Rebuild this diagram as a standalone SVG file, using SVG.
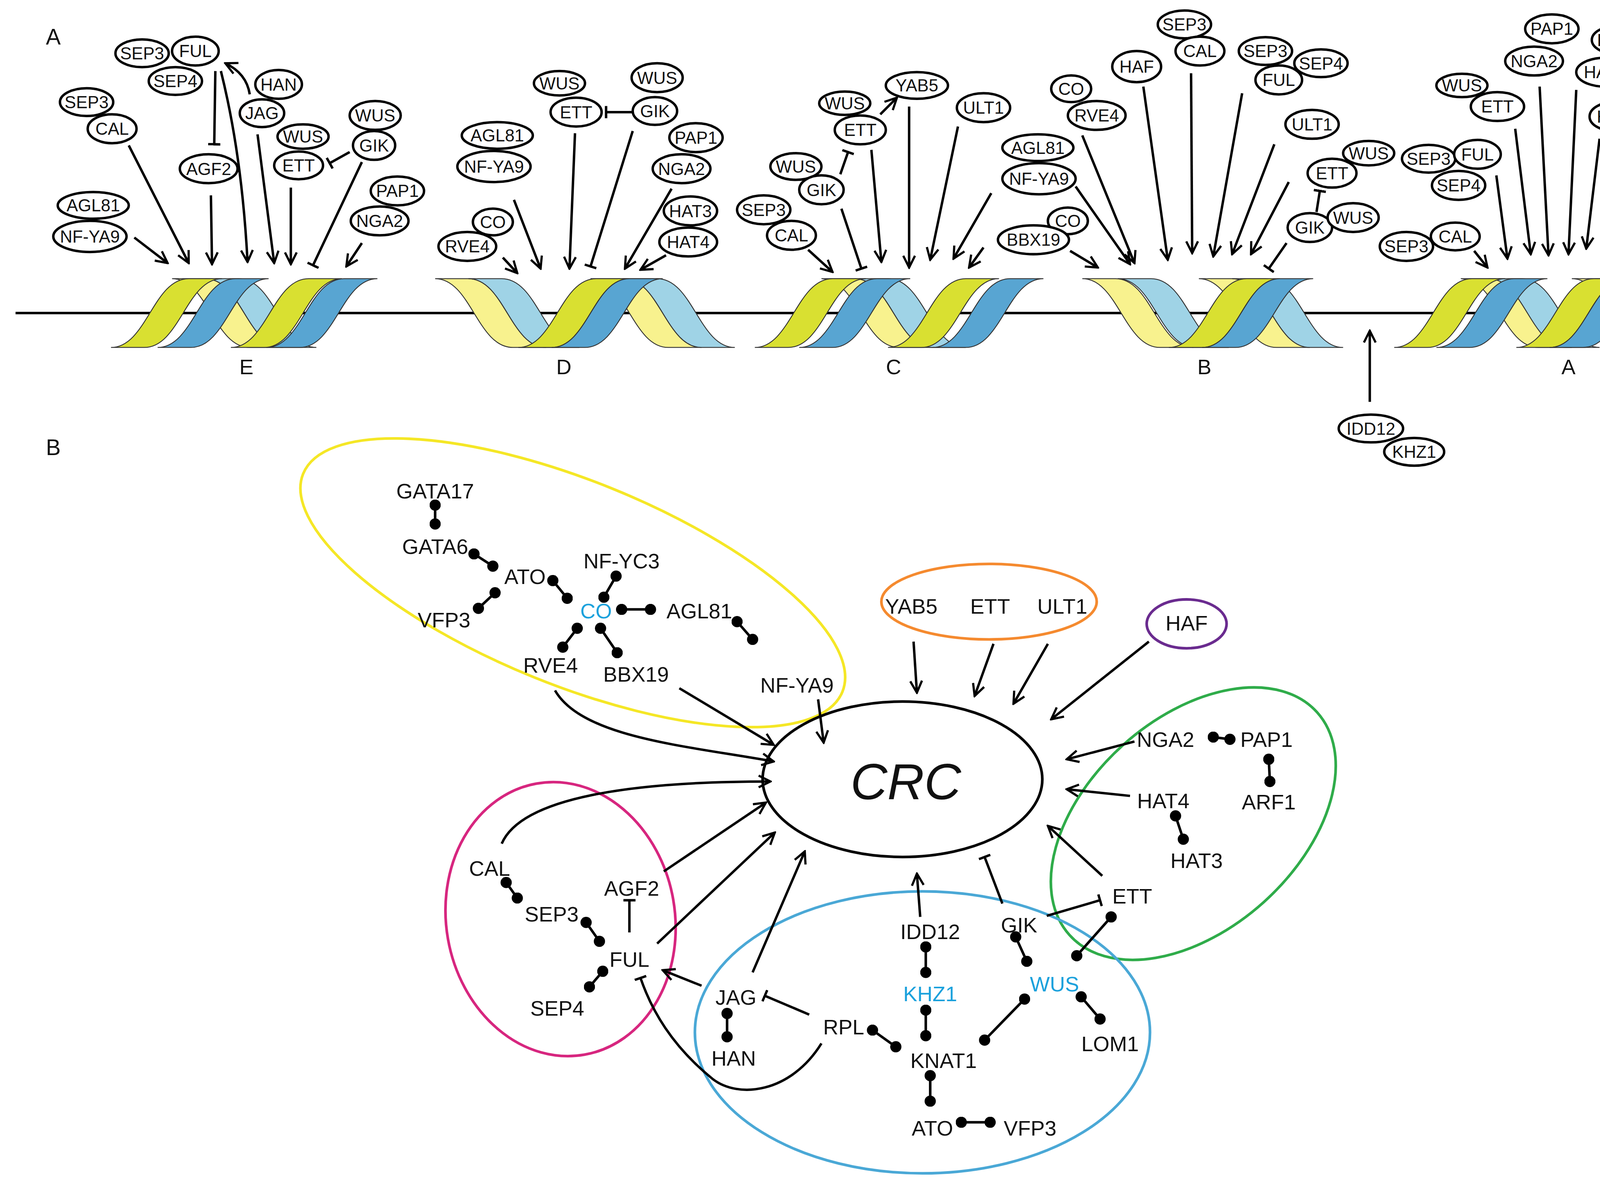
<svg xmlns="http://www.w3.org/2000/svg" xmlns:xlink="http://www.w3.org/1999/xlink" width="4433" height="3031" viewBox="0 0 4433 3031">
<style>
.n ellipse{fill:#fff;stroke:#000;stroke-width:2.2}
.n text,.t{font-family:"Liberation Sans",Arial,sans-serif;font-size:15.5px;text-anchor:middle;fill:#111}
.b{font-family:"Liberation Sans",Arial,sans-serif;font-size:19px;text-anchor:middle;fill:#111}
.c{fill:#1ba1dc}
.ln{fill:none;stroke:#000;stroke-width:2.2}
.ar{marker-end:url(#ar)}
.tb{marker-end:url(#tb)}
.dl{stroke:#000;stroke-width:2.3;marker-start:url(#dot);marker-end:url(#dot)}
.G{fill:#d9e031;stroke:#333;stroke-width:.8}
.B{fill:#58a5d2;stroke:#333;stroke-width:.8}
.LY{fill:#f8f28e;stroke:#333;stroke-width:.8}
.LB{fill:#9fd3e6;stroke:#333;stroke-width:.8}
</style>
<defs>
<marker id="ar" viewBox="0 0 10 10" refX="9" refY="5" markerWidth="6" markerHeight="6" orient="auto" markerUnits="strokeWidth"><path d="M1,1 L9,5 L1,9" fill="none" stroke="#000" stroke-width="1.5"/></marker>
<marker id="tb" viewBox="0 0 10 10" refX="9" refY="5" markerWidth="5" markerHeight="5" orient="auto" markerUnits="strokeWidth"><path d="M9,0 L9,10" stroke="#000" stroke-width="2"/></marker>
<marker id="dot" viewBox="0 0 10 10" refX="5" refY="5" markerWidth="4.4" markerHeight="4.4" markerUnits="strokeWidth"><circle cx="5" cy="5" r="5" fill="#000"/></marker>
<path id="ri" d="M0,62 C32,62 38,0 70,0 L100,0 C68,0 62,62 30,62 Z"/>
<path id="fa" d="M0,0 L30,0 C62,0 68,62 100,62 L70,62 C38,62 32,0 0,0 Z"/>
</defs>
<rect width="4433" height="3031" fill="#fff"/>
<g transform="scale(2.8417)">
<text class="t" x="48" y="40" style="font-size:20px">A</text>
<line x1="14" y1="282" x2="1555" y2="282" stroke="#000" stroke-width="2.2"/>
<g id="helixE" transform="translate(100,251)">
<use href="#fa" x="55" class="LY"/><use href="#fa" x="85" class="LB"/>
<use href="#ri" x="0" class="G"/><use href="#ri" x="42" class="B"/><use href="#ri" x="108" class="G"/><use href="#ri" x="140" class="B"/>
</g>
<g id="helixD" transform="translate(392,251)">
<use href="#fa" x="0" class="LY"/><use href="#fa" x="30" class="LB"/><use href="#fa" x="140" class="LY"/><use href="#fa" x="170" class="LB"/>
<use href="#ri" x="75" class="G"/><use href="#ri" x="105" class="B"/>
</g>
<g id="helixC" transform="translate(680,251)">
<use href="#fa" x="60" class="LY"/><use href="#fa" x="90" class="LB"/>
<use href="#ri" x="0" class="G"/><use href="#ri" x="40" class="B"/><use href="#ri" x="120" class="G"/><use href="#ri" x="160" class="B"/>
</g>
<g id="helixB" transform="translate(975,251)">
<use href="#fa" x="0" class="LY"/><use href="#fa" x="32" class="LB"/><use href="#fa" x="105" class="LY"/><use href="#fa" x="135" class="LB"/>
<use href="#ri" x="78" class="G"/><use href="#ri" x="108" class="B"/>
</g>
<g id="helixA" transform="translate(1256,251)">
<use href="#fa" x="60" class="LY"/><use href="#fa" x="85" class="LB"/><use href="#fa" x="160" class="LY"/><use href="#fa" x="181" class="LB"/>
<use href="#ri" x="0" class="G"/><use href="#ri" x="38" class="B"/><use href="#ri" x="110" class="G"/><use href="#ri" x="140" class="B"/>
</g>
<text class="t" x="222" y="337" style="font-size:19px">E</text>
<text class="t" x="508" y="337" style="font-size:19px">D</text>
<text class="t" x="805" y="337" style="font-size:19px">C</text>
<text class="t" x="1085" y="337" style="font-size:19px">B</text>
<text class="t" x="1413" y="337" style="font-size:19px">A</text>

<g id="connectorsA">
<path class="ln ar" d="M121,214 L151,237"/>
<path class="ln ar" d="M116,131 L170,237"/>
<path class="ln ar" d="M190,176 L191,238"/>
<path class="ln ar" d="M199,64 Q218,140 223,236"/>
<path class="ln ar" d="M232,121 L247,237"/>
<path class="ln ar" d="M262,169 L262,238"/>
<path class="ln tb" d="M326,146 L282,239"/>
<path class="ln ar" d="M326,219 L312,240"/>
<path class="ln tb" d="M194,64 L193,130"/>
<path class="ln ar" d="M225,85 Q222,66 203,57"/>
<path class="ln tb" d="M315,137 L297,147"/>
<path class="ln ar" d="M453,232 L466,246"/>
<path class="ln ar" d="M463,180 L487,242"/>
<path class="ln ar" d="M518,120 L513,242"/>
<path class="ln tb" d="M570,118 L532,240"/>
<path class="ln ar" d="M605,170 L563,242"/>
<path class="ln ar" d="M600,230 L577,243"/>
<path class="ln tb" d="M570,101 L546,101"/>
<path class="ln ar" d="M793,103 L808,88"/>
<path class="ln tb" d="M757,157 L764,137"/>
<path class="ln ar" d="M728,225 L750,245"/>
<path class="ln tb" d="M758,188 L776,242"/>
<path class="ln ar" d="M785,135 L794,236"/>
<path class="ln ar" d="M819,96 L819,241"/>
<path class="ln ar" d="M863,114 L838,234"/>
<path class="ln ar" d="M893,174 L859,233"/>
<path class="ln ar" d="M886,223 L873,241"/>
<path class="ln ar" d="M964,226 L989,241"/>
<path class="ln ar" d="M969,168 L1018,238"/>
<path class="ln ar" d="M975,122 L1022,237"/>
<path class="ln ar" d="M1030,78 L1052,234"/>
<path class="ln ar" d="M1073,66 L1074,228"/>
<path class="ln ar" d="M1119,84 L1093,231"/>
<path class="ln ar" d="M1148,130 L1110,229"/>
<path class="ln ar" d="M1161,164 L1127,229"/>
<path class="ln tb" d="M1159,219 L1143,242"/>
<path class="ln tb" d="M1186,191 L1189,172"/>
<path class="ln ar" d="M1328,226 L1340,241"/>
<path class="ln ar" d="M1348,158 L1358,233"/>
<path class="ln ar" d="M1365,116 L1379,229"/>
<path class="ln ar" d="M1387,78 L1395,230"/>
<path class="ln ar" d="M1420,81 L1413,229"/>
<path class="ln ar" d="M1441,125 L1429,224"/>
<path class="ln ar" d="M1475,149 L1447,224"/>
<path class="ln ar" d="M1468,222 L1456,236"/>
<path d="M1476,250 L1476,242 L1489,242" fill="none" stroke="#000" stroke-width="1.3"/>
<path d="M1486,239 L1490,242 L1486,245" fill="none" stroke="#000" stroke-width="1.3"/>
<path class="ln ar" d="M1234,362 L1234,298"/>
</g>

<g id="nodesA" class="n">
<g id="aE_sep4"><ellipse cx="158" cy="73" rx="24" ry="12.5"/><text x="158" y="78.5">SEP4</text></g>
<g id="aE_sep3"><ellipse cx="128" cy="48" rx="24" ry="12.5"/><text x="128" y="53.5">SEP3</text></g>
<g id="aE_ful"><ellipse cx="176" cy="46" rx="21" ry="13"/><text x="176" y="51.5">FUL</text></g>
<g id="aE_han"><ellipse cx="251" cy="76" rx="21" ry="13"/><text x="251" y="81.5">HAN</text></g>
<g id="aE_jag"><ellipse cx="236" cy="102" rx="20" ry="12.5"/><text x="236" y="107.5">JAG</text></g>
<g id="aE_sep3b"><ellipse cx="78" cy="92" rx="24" ry="12.5"/><text x="78" y="97.5">SEP3</text></g>
<g id="aE_cal"><ellipse cx="101" cy="116" rx="22" ry="13"/><text x="101" y="121.5">CAL</text></g>
<g id="aE_wus1"><ellipse cx="338" cy="104" rx="23" ry="13"/><text class="c" x="338" y="109.5">WUS</text></g>
<g id="aE_gik"><ellipse cx="337" cy="131" rx="19" ry="13"/><text x="337" y="136.5">GIK</text></g>
<g id="aE_wus2"><ellipse cx="273" cy="123" rx="23" ry="11"/><text class="c" x="273" y="128.5">WUS</text></g>
<g id="aE_ett"><ellipse cx="269" cy="149" rx="22" ry="12.5"/><text x="269" y="154.5">ETT</text></g>
<g id="aE_agf2"><ellipse cx="188" cy="152" rx="26" ry="13"/><text x="188" y="157.5">AGF2</text></g>
<g id="aE_agl81"><ellipse cx="84" cy="185" rx="32" ry="12"/><text x="84" y="190.5">AGL81</text></g>
<g id="aE_nfya9"><ellipse cx="81" cy="213" rx="33" ry="14"/><text x="81" y="218.5">NF-YA9</text></g>
<g id="aE_pap1"><ellipse cx="358" cy="172" rx="24" ry="13"/><text x="358" y="177.5">PAP1</text></g>
<g id="aE_nga2"><ellipse cx="342" cy="199" rx="26" ry="13"/><text x="342" y="204.5">NGA2</text></g>
<g id="aD_wus1"><ellipse cx="504" cy="75" rx="23" ry="11"/><text class="c" x="504" y="80.5">WUS</text></g>
<g id="aD_ett"><ellipse cx="519" cy="101" rx="23" ry="13"/><text x="519" y="106.5">ETT</text></g>
<g id="aD_wus2"><ellipse cx="592" cy="70" rx="23" ry="13"/><text class="c" x="592" y="75.5">WUS</text></g>
<g id="aD_gik"><ellipse cx="590" cy="100" rx="20" ry="12.5"/><text x="590" y="105.5">GIK</text></g>
<g id="aD_agl81"><ellipse cx="448" cy="122" rx="32" ry="12"/><text x="448" y="127.5">AGL81</text></g>
<g id="aD_nfya9"><ellipse cx="445" cy="150" rx="33" ry="14"/><text x="445" y="155.5">NF-YA9</text></g>
<g id="aD_pap1"><ellipse cx="627" cy="124" rx="24" ry="13"/><text x="627" y="129.5">PAP1</text></g>
<g id="aD_nga2"><ellipse cx="614" cy="152" rx="26" ry="13"/><text x="614" y="157.5">NGA2</text></g>
<g id="aD_co"><ellipse cx="444" cy="200" rx="18" ry="12"/><text class="c" x="444" y="205.5">CO</text></g>
<g id="aD_rve4"><ellipse cx="421" cy="222" rx="26" ry="13"/><text x="421" y="227.5">RVE4</text></g>
<g id="aD_hat3"><ellipse cx="622" cy="190" rx="24" ry="13"/><text x="622" y="195.5">HAT3</text></g>
<g id="aD_hat4"><ellipse cx="620" cy="218" rx="26" ry="13"/><text x="620" y="223.5">HAT4</text></g>
<g id="aC_wus1"><ellipse cx="761" cy="93" rx="23" ry="10.5"/><text class="c" x="761" y="98.5">WUS</text></g>
<g id="aC_ett"><ellipse cx="775" cy="117" rx="23" ry="13"/><text x="775" y="122.5">ETT</text></g>
<g id="aC_yab5"><ellipse cx="826" cy="77" rx="28" ry="12"/><text x="826" y="82.5">YAB5</text></g>
<g id="aC_ult1"><ellipse cx="886" cy="97" rx="24" ry="13"/><text x="886" y="102.5">ULT1</text></g>
<g id="aC_wus2"><ellipse cx="717" cy="150" rx="23" ry="12"/><text class="c" x="717" y="155.5">WUS</text></g>
<g id="aC_gik"><ellipse cx="740" cy="171" rx="20" ry="13"/><text x="740" y="176.5">GIK</text></g>
<g id="aC_sep3"><ellipse cx="688" cy="189" rx="24" ry="13"/><text x="688" y="194.5">SEP3</text></g>
<g id="aC_cal"><ellipse cx="713" cy="212" rx="22" ry="13"/><text x="713" y="217.5">CAL</text></g>
<g id="aC_agl81"><ellipse cx="935" cy="133" rx="32" ry="12"/><text x="935" y="138.5">AGL81</text></g>
<g id="aC_nfya9"><ellipse cx="936" cy="161" rx="33" ry="14"/><text x="936" y="166.5">NF-YA9</text></g>
<g id="aC_co"><ellipse cx="962" cy="199" rx="18" ry="12"/><text class="c" x="962" y="204.5">CO</text></g>
<g id="aC_bbx19"><ellipse cx="931" cy="216" rx="32" ry="13"/><text x="931" y="221.5">BBX19</text></g>
<g id="aB_sep3"><ellipse cx="1067" cy="22" rx="24" ry="12.5"/><text x="1067" y="27.5">SEP3</text></g>
<g id="aB_cal"><ellipse cx="1081" cy="46" rx="22" ry="13"/><text x="1081" y="51.5">CAL</text></g>
<g id="aB_haf"><ellipse cx="1024" cy="60" rx="22" ry="14"/><text x="1024" y="65.5">HAF</text></g>
<g id="aB_sep4"><ellipse cx="1190" cy="57" rx="24" ry="12.5"/><text x="1190" y="62.5">SEP4</text></g>
<g id="aB_sep3b"><ellipse cx="1140" cy="46" rx="24" ry="12.5"/><text x="1140" y="51.5">SEP3</text></g>
<g id="aB_ful"><ellipse cx="1152" cy="72" rx="21" ry="13"/><text x="1152" y="77.5">FUL</text></g>
<g id="aB_co"><ellipse cx="965" cy="80" rx="18" ry="12"/><text class="c" x="965" y="85.5">CO</text></g>
<g id="aB_rve4"><ellipse cx="988" cy="104" rx="26" ry="13"/><text x="988" y="109.5">RVE4</text></g>
<g id="aB_ult1"><ellipse cx="1182" cy="112" rx="24" ry="13"/><text x="1182" y="117.5">ULT1</text></g>
<g id="aB_wus1"><ellipse cx="1233" cy="138" rx="23" ry="11"/><text class="c" x="1233" y="143.5">WUS</text></g>
<g id="aB_ett"><ellipse cx="1200" cy="156" rx="22" ry="13"/><text x="1200" y="161.5">ETT</text></g>
<g id="aB_gik"><ellipse cx="1180" cy="205" rx="20" ry="13"/><text x="1180" y="210.5">GIK</text></g>
<g id="aB_wus2"><ellipse cx="1219" cy="196" rx="23" ry="13"/><text class="c" x="1219" y="201.5">WUS</text></g>
<g id="aA_wus"><ellipse cx="1317" cy="77" rx="23" ry="10.5"/><text class="c" x="1317" y="82.5">WUS</text></g>
<g id="aA_ett"><ellipse cx="1349" cy="96" rx="24" ry="13"/><text x="1349" y="101.5">ETT</text></g>
<g id="aA_sep4"><ellipse cx="1314" cy="167" rx="24" ry="13"/><text x="1314" y="172.5">SEP4</text></g>
<g id="aA_sep3"><ellipse cx="1287" cy="143" rx="24" ry="12.5"/><text x="1287" y="148.5">SEP3</text></g>
<g id="aA_ful"><ellipse cx="1331" cy="139" rx="21" ry="13"/><text x="1331" y="144.5">FUL</text></g>
<g id="aA_sep3b"><ellipse cx="1267" cy="222" rx="24" ry="13"/><text x="1267" y="227.5">SEP3</text></g>
<g id="aA_cal"><ellipse cx="1311" cy="213" rx="22" ry="12.5"/><text x="1311" y="218.5">CAL</text></g>
<g id="aA_pap1"><ellipse cx="1398" cy="26" rx="24" ry="13"/><text x="1398" y="31.5">PAP1</text></g>
<g id="aA_nga2"><ellipse cx="1382" cy="55" rx="26" ry="13"/><text x="1382" y="60.5">NGA2</text></g>
<g id="aA_hat3"><ellipse cx="1458" cy="36" rx="24" ry="13"/><text x="1458" y="41.5">HAT3</text></g>
<g id="aA_hat4"><ellipse cx="1446" cy="65" rx="26" ry="13"/><text x="1446" y="70.5">HAT4</text></g>
<g id="aA_haf"><ellipse cx="1454" cy="105" rx="22" ry="13"/><text x="1454" y="110.5">HAF</text></g>
<g id="aA_agl81"><ellipse cx="1512" cy="109" rx="32" ry="12"/><text x="1512" y="114.5">AGL81</text></g>
<g id="aA_nfya9"><ellipse cx="1511" cy="137" rx="33" ry="14"/><text x="1511" y="142.5">NF-YA9</text></g>
<g id="aA_co"><ellipse cx="1519" cy="185" rx="18" ry="12"/><text class="c" x="1519" y="190.5">CO</text></g>
<g id="aA_rve4"><ellipse cx="1492" cy="207" rx="26" ry="13"/><text x="1492" y="212.5">RVE4</text></g>
<g id="a_idd12"><ellipse cx="1235" cy="386" rx="29" ry="12.5"/><text x="1235" y="391.5">IDD12</text></g>
<g id="a_khz1"><ellipse cx="1274" cy="407" rx="27" ry="12.5"/><text class="c" x="1274" y="412.5">KHZ1</text></g>
</g>

<text class="t" x="48" y="410" style="font-size:20px">B</text>
<g id="groups" fill="none" stroke-width="2.4">
<ellipse cx="516" cy="525" rx="262" ry="92" transform="rotate(22 516 525)" stroke="#f5e726"/>
<ellipse cx="891" cy="542" rx="97" ry="34" stroke="#f58a2f"/>
<ellipse cx="1069" cy="562" rx="36" ry="22" stroke="#6a2b8f"/>
<ellipse cx="1075" cy="742" rx="150" ry="95" transform="rotate(-42 1075 742)" stroke="#2fac4a"/>
<ellipse cx="505" cy="828" rx="103" ry="124" transform="rotate(-10 505 828)" stroke="#d7267f"/>
<ellipse cx="831" cy="930" rx="205" ry="127" stroke="#4aa8d6"/>
</g>
<g id="crc"><ellipse cx="813" cy="702" rx="126" ry="70" fill="none" stroke="#000" stroke-width="2.4"/><text class="b" x="816" y="720" style="font-size:46px;font-style:italic">CRC</text></g>

<g id="connectorsB">
<line class="dl" x1="392" y1="455" x2="392" y2="472"/>
<line class="dl" x1="427" y1="499" x2="444" y2="510"/>
<line class="dl" x1="498" y1="523" x2="511" y2="539"/>
<line class="dl" x1="555" y1="519" x2="544" y2="538"/>
<line class="dl" x1="446" y1="534" x2="431" y2="548"/>
<line class="dl" x1="560" y1="549" x2="586" y2="549"/>
<line class="dl" x1="664" y1="560" x2="678" y2="576"/>
<line class="dl" x1="520" y1="566" x2="507" y2="583"/>
<line class="dl" x1="541" y1="566" x2="556" y2="588"/>
<line class="dl" x1="456" y1="795" x2="466" y2="809"/>
<line class="dl" x1="528" y1="831" x2="540" y2="848"/>
<line class="dl" x1="543" y1="875" x2="531" y2="889"/>
<line class="dl" x1="655" y1="913" x2="655" y2="934"/>
<line class="dl" x1="786" y1="928" x2="807" y2="943"/>
<line class="dl" x1="838" y1="969" x2="838" y2="992"/>
<line class="dl" x1="866" y1="1011" x2="892" y2="1011"/>
<line class="dl" x1="834" y1="910" x2="834" y2="933"/>
<line class="dl" x1="834" y1="853" x2="834" y2="876"/>
<line class="dl" x1="915" y1="844" x2="925" y2="866"/>
<line class="dl" x1="1001" y1="826" x2="970" y2="861"/>
<line class="dl" x1="923" y1="900" x2="887" y2="937"/>
<line class="dl" x1="974" y1="898" x2="991" y2="918"/>
<line class="dl" x1="1059" y1="735" x2="1066" y2="756"/>
<line class="dl" x1="1093" y1="664" x2="1108" y2="666"/>
<line class="dl" x1="1143" y1="684" x2="1144" y2="704"/>
<path class="ln ar" d="M500,622 C525,665 620,672 697,686"/>
<path class="ln ar" d="M612,620 L697,671"/>
<path class="ln ar" d="M737,630 L742,669"/>
<path class="ln ar" d="M823,578 L826,624"/>
<path class="ln ar" d="M895,580 L878,627"/>
<path class="ln ar" d="M944,580 L913,634"/>
<path class="ln ar" d="M1035,578 L947,648"/>
<path class="ln ar" d="M1022,668 L961,684"/>
<path class="ln ar" d="M1018,717 L961,711"/>
<path class="ln ar" d="M993,789 L944,744"/>
<path class="ln tb" d="M903,814 L887,772"/>
<path class="ln tb" d="M943,825 L991,811"/>
<path class="ln ar" d="M829,826 L826,787"/>
<path class="ln ar" d="M678,876 L725,767"/>
<path class="ln ar" d="M592,850 L698,750"/>
<path class="ln ar" d="M598,785 L690,723"/>
<path class="ln ar" d="M452,760 C470,718 570,704 694,704"/>
<path class="ln tb" d="M567,840 L567,811"/>
<path class="ln ar" d="M632,888 L597,874"/>
<path class="ln tb" d="M729,914 L689,897"/>
<path class="ln tb" d="M740,940 C712,985 665,990 642,972 C605,942 587,910 577,881"/>
</g>

<g id="nodesB" class="b">
<text x="392" y="449">GATA17</text>
<text x="392" y="499">GATA6</text>
<text x="473" y="526">ATO</text>
<text x="560" y="512">NF-YC3</text>
<text x="400" y="565">VFP3</text>
<text x="537" y="557" class="c">CO</text>
<text x="630" y="557">AGL81</text>
<text x="718" y="624">NF-YA9</text>
<text x="496" y="606">RVE4</text>
<text x="573" y="614">BBX19</text>
<text x="821" y="553">YAB5</text>
<text x="892" y="553">ETT</text>
<text x="957" y="553">ULT1</text>
<text x="1069" y="568">HAF</text>
<text x="1050" y="673">NGA2</text>
<text x="1141" y="673">PAP1</text>
<text x="1143" y="729">ARF1</text>
<text x="1048" y="728">HAT4</text>
<text x="1078" y="782">HAT3</text>
<text x="1020" y="814">ETT</text>
<text x="441" y="789">CAL</text>
<text x="497" y="830">SEP3</text>
<text x="569" y="807">AGF2</text>
<text x="567" y="871">FUL</text>
<text x="502" y="915">SEP4</text>
<text x="663" y="905">JAG</text>
<text x="661" y="960">HAN</text>
<text x="760" y="932">RPL</text>
<text x="850" y="962">KNAT1</text>
<text x="840" y="1023">ATO</text>
<text x="928" y="1023">VFP3</text>
<text x="838" y="902" class="c">KHZ1</text>
<text x="838" y="846">IDD12</text>
<text x="918" y="840">GIK</text>
<text x="950" y="893" class="c">WUS</text>
<text x="1000" y="947">LOM1</text>
</g>
</g>
</svg>
